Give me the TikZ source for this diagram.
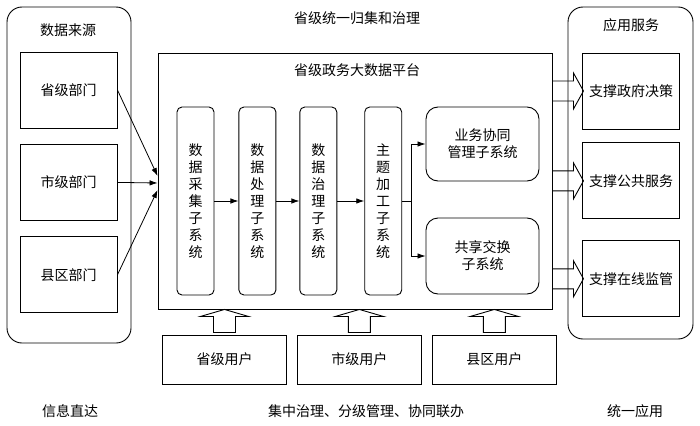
\documentclass[tikz,border=0pt]{standalone}
\usepackage{fontspec}
\setmainfont{Noto Sans CJK SC}
\usetikzlibrary{positioning,arrows.meta,calc}

\begin{document}
\begin{tikzpicture}[
    x=1pt, y=-1pt,
    font=\fontsize{14}{17}\selectfont,
    line width=0.9pt,
    grp/.style  = {draw, rounded corners=15pt, inner sep=0pt},
    blk/.style  = {draw, minimum width=97pt, minimum height=76pt,
                   inner sep=0pt, align=center},
    sub/.style  = {draw, rounded corners=5pt, minimum width=37pt,
                   minimum height=188pt, inner sep=0pt, align=center},
    rbox/.style = {draw, rounded corners=12pt, minimum width=113pt,
                   inner sep=0pt, align=center},
    usr/.style  = {draw, minimum width=124pt, minimum height=49pt, inner sep=0pt},
    lbl/.style  = {inner sep=0pt},
    lnk/.style  = {-{Latex[length=8pt,width=5.5pt]}, line width=0.8pt},
    fat/.style  = {line width=0.9pt, line join=miter},
]
\useasboundingbox (0,0) rectangle (700,425);

%============================ DATA SOURCES ==========================
\node[grp, minimum width=124pt, minimum height=336pt] (src) at (69,175) {};
\node[lbl] (srcT) at (68,30) {数据来源};
\node[blk] (d1) at (68.5,90) {省级部门};
\node[blk, below=15.5pt of d1] (d2) {市级部门};
\node[blk, below=15.5pt of d2] (d3) {县区部门};

%============================ PLATFORM ==============================
\node[lbl] (topT) at (357,18) {省级统一归集和治理};
\node[draw, minimum width=394pt, minimum height=256pt, inner sep=0pt]
      (plat) at (355,181) {};
\node[lbl] (platT) at (357,70) {省级政务大数据平台};

\node[sub] (s1) at (195.5,201) {数\\据\\采\\集\\子\\系\\统};
\node[sub, right=24pt of s1] (s2) {数\\据\\处\\理\\子\\系\\统};
\node[sub, right=23pt of s2] (s3) {数\\据\\治\\理\\子\\系\\统};
\node[sub, right=27pt of s3] (s4) {主\\题\\加\\工\\子\\系\\统};
\node[rbox, minimum height=74pt] (yw) at (482.5,144) {业务协同\\管理子系统};
\node[rbox, minimum height=76pt] (gx) at (482.5,256) {共享交换\\子系统};

\draw[lnk] (s1) -- (s2);
\draw[lnk] (s2) -- (s3);
\draw[lnk] (s3) -- (s4);
\draw (s4.east) -- ++(9,0) coordinate (br);
\draw[lnk] (br) |- (yw.west);
\draw[lnk] (br) |- (gx.west);

% --- sources into the platform
\draw[lnk] (d1.east) -- ($(plat.west)+(0,-5)$);
\draw[lnk] (d2.east) -- ($(plat.west)+(0,2)$);
\draw[lnk] (d3.east) -- ($(plat.west)+(0,9)$);

%============================ SERVICES ==============================
\node[grp, minimum width=125pt, minimum height=332pt] (app) at (630.5,173) {};
\node[lbl] (appT) at (631,25) {应用服务};
\node[blk] (g1) at (631,91) {支撑政府决策};
\node[blk, below=13pt of g1] (g2) {支撑公共服务};
\node[blk, below=21pt of g2] (g3) {支撑在线监管};

\draw[fat] ($(plat.east |- g1.west)+(0,-10)$) -- ++(21,0) -- ++(0,-8)
      -- ++(10,18) -- ++(-10,18) -- ++(0,-8) -- ++(-21,0);
\draw[fat] ($(plat.east |- g2.west)+(0,-10)$) -- ++(21,0) -- ++(0,-8)
      -- ++(10,18) -- ++(-10,18) -- ++(0,-8) -- ++(-21,0);
\draw[fat] ($(plat.east |- g3.west)+(0,-10)$) -- ++(21,0) -- ++(0,-8)
      -- ++(10,18) -- ++(-10,18) -- ++(0,-8) -- ++(-21,0);

%============================ USERS =================================
\node[usr] (u1) at (224.5,359.5) {省级用户};
\node[usr, right=10pt of u1] (u2) {市级用户};
\node[usr, right=10pt of u2] (u3) {县区用户};

\draw[fat] (plat.south -| u1) -- ++(24,7) -- ++(-13,0) -- ++(0,16)
      -- ++(-22,0) -- ++(0,-16) -- ++(-13,0) -- cycle;
\draw[fat] (plat.south -| u2) -- ++(24,7) -- ++(-13,0) -- ++(0,16)
      -- ++(-22,0) -- ++(0,-16) -- ++(-13,0) -- cycle;
\draw[fat] (plat.south -| u3) -- ++(24,7) -- ++(-13,0) -- ++(0,16)
      -- ++(-22,0) -- ++(0,-16) -- ++(-13,0) -- cycle;

%============================ FOOTER ================================
\node[lbl] (ft1) at (70,411) {信息直达};
\node[lbl] (ft2) at (366,411) {集中治理、分级管理、协同联办};
\node[lbl] (ft3) at (635,411) {统一应用};

\end{tikzpicture}
\end{document}
